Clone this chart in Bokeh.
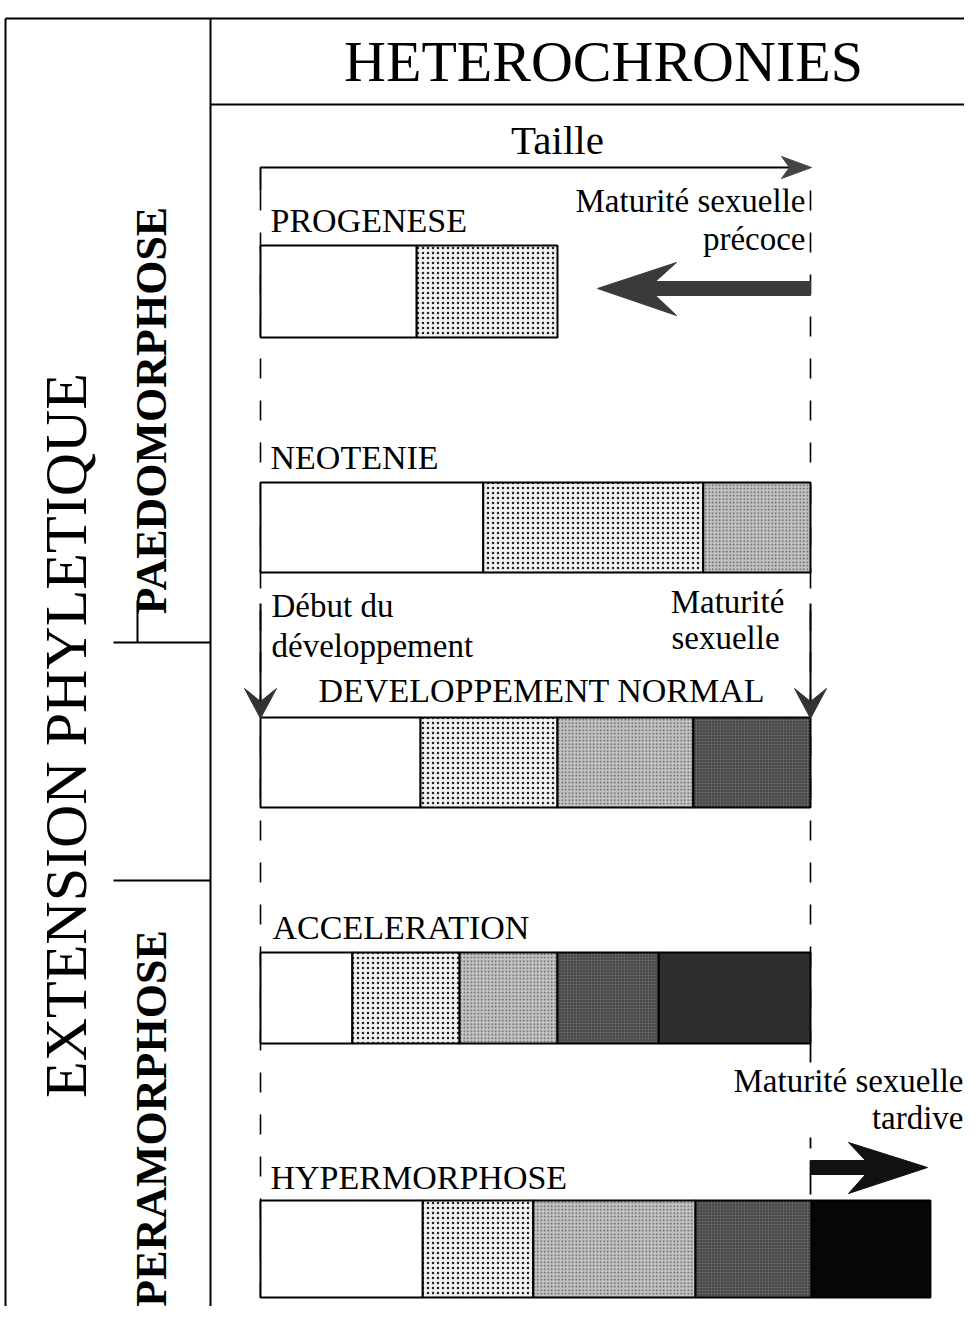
import math
from bokeh.plotting import figure
from bokeh.models import Range1d, ColumnDataSource
from bokeh.core.properties import value
from bokeh.embed import file_html
from bokeh.resources import INLINE

# ---------------- data ----------------
title_text = "HETEROCHRONIES"
side_title = "EXTENSION PHYLETIQUE"
group_names = ["PAEDOMORPHOSE", "PERAMORPHOSE"]
axis_label = "Taille"
stage_names = ["PROGENESE", "NEOTENIE", "DEVELOPPEMENT NORMAL", "ACCELERATION", "HYPERMORPHOSE"]
# stage boundaries in "taille" units (0 = début du développement, 100 = maturité sexuelle normale)
progenese_edges = [0, 28.4, 54.0]
neotenie_edges = [0, 40.5, 80.5, 100]
normal_edges = [0, 29.1, 54.0, 78.7, 100]
acceleration_edges = [0, 16.7, 36.2, 54.0, 72.4, 100]
hypermorphose_edges = [0, 29.5, 49.6, 79.1, 100.2, 121.8]
progenese_shades = [0, 1]
neotenie_shades = [0, 1, 2]
normal_shades = [0, 1, 2, 3]
acceleration_shades = [0, 1, 2, 3, 4]
hypermorphose_shades = [0, 1, 2, 3, 5]
precoce_text = ["Maturité sexuelle", "précoce"]
tardive_text = ["Maturité sexuelle", "tardive"]
debut_text = ["Début du", "développement"]
maturite_text = ["Maturité", "sexuelle"]

all_edges = [progenese_edges, neotenie_edges, normal_edges, acceleration_edges, hypermorphose_edges]
all_shades = [progenese_shades, neotenie_shades, normal_shades, acceleration_shades, hypermorphose_shades]

# ---------------- styles / layout ----------------
SERIF = value("Liberation Serif")
BL = 0.37  # baseline correction factor of the svg text renderer


def base(pos, size):
    return [v - BL * size for v in pos]


shade_fill = {0: "#ffffff", 1: "#f2f2f2", 2: "#c4c4c4", 3: "#5e5e5e", 4: "#2e2e2e", 5: "#060606"}
shade_hatch = {0: None, 1: "dot", 2: "dot", 3: "dot", 4: None, 5: None}
shade_hatch_color = {0: "black", 1: "#222222", 2: "#555555", 3: "#222222", 4: "black", 5: "black"}
shade_hatch_scale = {0: 6, 1: 5, 2: 3.5, 3: 3, 4: 3, 5: 3}
bar_tops = [245, 482, 717, 952, 1200]
bar_bottoms = [337, 572, 807, 1043, 1297]
label_x = [270, 270, 318, 272, 270]
label_y = [233, 470, 703, 940, 1190]

p = figure(width=964, height=1306, x_range=Range1d(0, 964), y_range=Range1d(1306, 0),
           output_backend="svg", toolbar_location=None, min_border=0,
           x_axis_location=None, y_axis_location=None)
p.grid.visible = False
p.outline_line_color = None
p.background_fill_color = "white"
p.border_fill_color = "white"
# "taille" scale: 0 -> start of development, 100 -> normal sexual maturity
p.extra_x_ranges = {"taille": Range1d(-260 / 5.5, (964 - 260) / 5.5)}

# ---------------- frame ----------------
p.segment(x0=[5, 5, 210, 210, 113, 113, 137], y0=[18, 18, 18, 104, 642, 880, 600],
          x1=[964, 5, 210, 964, 210, 210, 137], y1=[18, 1306, 1306, 104, 642, 880, 642],
          line_color="black", line_width=2)

# dashed guide lines at start (0) and normal maturity (100)
p.segment(x0=[0, 100], y0=[190, 190], x1=[0, 100], y1=[1297, 1043], x_range_name="taille",
          line_color="black", line_width=1.6, line_dash="20 22")
p.segment(x0=[100, 100, 100], y0=[1043, 1137, 1160], x1=[100, 100, 100], y1=[1062, 1148, 1194],
          x_range_name="taille", line_color="black", line_width=1.8)

# ---------------- bars ----------------
left, right, top, bottom, fill, hatch, hcol, hscale = [], [], [], [], [], [], [], []
for i, (e, s) in enumerate(zip(all_edges, all_shades)):
    for j, sh in enumerate(s):
        left.append(e[j]); right.append(e[j + 1])
        top.append(bar_tops[i]); bottom.append(bar_bottoms[i])
        fill.append(shade_fill[sh])
        hatch.append(shade_hatch[sh] or " ")
        hcol.append(shade_hatch_color[sh])
        hscale.append(shade_hatch_scale[sh])
src = ColumnDataSource(dict(left=left, right=right, top=top, bottom=bottom, fill=fill,
                            hatch=hatch, hcol=hcol, hscale=hscale))
p.quad(left="left", right="right", top="top", bottom="bottom", source=src, x_range_name="taille",
       fill_color="fill", hatch_pattern="hatch", hatch_color="hcol", hatch_scale="hscale",
       hatch_weight=1.2, line_color="black", line_width=2)

# ---------------- stage labels ----------------
p.text(x=label_x, y=base(label_y, 34), text=stage_names, text_font=SERIF, text_font_size="34px",
       text_align="left", text_baseline="alphabetic", text_color="black")

# ---------------- title & side titles ----------------
p.text(x=[603], y=base([82], 58), text=[title_text], text_font=SERIF, text_font_size="58px",
       text_align="center", text_baseline="alphabetic", text_color="black")
p.text(x=base([88], 60), y=[735], text=[side_title], angle=math.pi / 2, text_font=SERIF,
       text_font_size="60px", text_align="center", text_baseline="alphabetic", text_color="black")
p.text(x=base([167, 167], 44), y=[410, 1118], text=group_names, angle=math.pi / 2, text_font=SERIF,
       text_font_size="44px", text_font_style="bold",
       text_align="center", text_baseline="alphabetic", text_color="black")

# ---------------- Taille bracket ----------------
p.text(x=[557], y=base([155], 41), text=[axis_label], text_font=SERIF, text_font_size="41px",
       text_align="center", text_baseline="alphabetic", text_color="black")
p.line(x=[260, 260, 806], y=[190, 167, 167], line_color="black", line_width=2)
p.patch(x=[811, 781, 789, 781], y=[167, 156, 167, 178], fill_color="#444444", line_color="#444444", line_width=1)

# ---------------- annotations ----------------
p.text(x=[805, 805], y=base([213, 251], 33), text=precoce_text, text_font=SERIF, text_font_size="33px",
       text_align="right", text_baseline="alphabetic", text_color="black")
p.patch(x=[810, 655, 676, 597, 676, 655, 810], y=[281, 281, 262, 288, 315, 295, 295],
        fill_color="#3a3a3a", line_color="#3a3a3a", line_width=1)

p.text(x=[271, 271], y=base([618, 658], 33), text=debut_text, text_font=SERIF, text_font_size="33px",
       text_align="left", text_baseline="alphabetic", text_color="black")
p.text(x=[727, 725], y=base([614, 650], 33), text=maturite_text, text_font=SERIF, text_font_size="33px",
       text_align="center", text_baseline="alphabetic", text_color="black")
p.segment(x0=[260, 810], y0=[603, 603], x1=[260, 810], y1=[705, 705], line_color="black", line_width=2)
p.patches(xs=[[244, 260, 276, 260], [794, 810, 826, 810]], ys=[[688, 701, 688, 718], [688, 701, 688, 718]],
          fill_color="#333333", line_color="#333333", line_width=1)

p.text(x=[963, 963], y=base([1093, 1130], 33), text=tardive_text, text_font=SERIF, text_font_size="33px",
       text_align="right", text_baseline="alphabetic", text_color="black")
p.patch(x=[810, 865, 848, 927, 848, 865, 810], y=[1160, 1160, 1142, 1167, 1193, 1174, 1174],
        fill_color="#111111", line_color="#111111", line_width=1)

open("out.html", "w").write(file_html(p, INLINE))
